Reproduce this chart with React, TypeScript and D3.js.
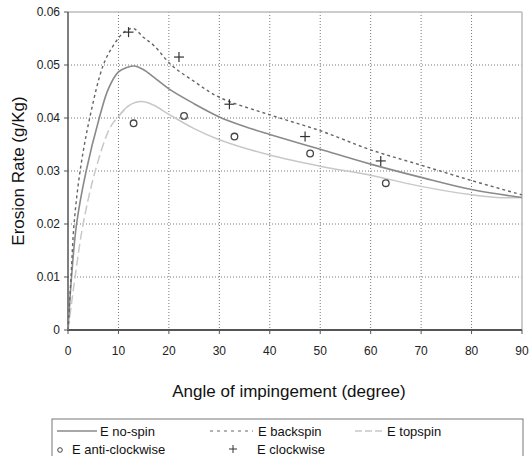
import React from "react";
import * as d3 from "d3";

const noSpinX = [0, 0.7, 1.7, 3.6, 6.2, 8, 10, 11.5, 13.1, 15, 17, 20, 25, 30, 35, 40, 50, 60, 70, 80, 90];
const noSpinY = [0, 0.01, 0.02, 0.03, 0.04, 0.0455, 0.0487, 0.0495, 0.0498, 0.0491, 0.0477, 0.0455, 0.0427, 0.0402, 0.0384, 0.0369, 0.0341, 0.0313, 0.0288, 0.0265, 0.025];

const backX = [0, 0.6, 1.2, 2.4, 4.3, 7, 9, 11, 12.9, 15, 17, 20.5, 25, 30, 40, 50, 60, 70, 80, 90];
const backY = [0, 0.01, 0.02, 0.03, 0.04, 0.05, 0.0537, 0.0561, 0.0569, 0.0552, 0.0537, 0.05, 0.0469, 0.0439, 0.0406, 0.0376, 0.034, 0.0311, 0.0282, 0.0255];

const topX = [0, 0.7, 1.4, 3.0, 5.4, 8.3, 10, 12, 14.6, 17, 20, 25, 30, 40, 50, 60, 70, 80, 85, 90];
const topY = [0, 0.005, 0.01, 0.02, 0.03, 0.0381, 0.0403, 0.0423, 0.0431, 0.0424, 0.0407, 0.038, 0.0359, 0.033, 0.0309, 0.0292, 0.0271, 0.0255, 0.025, 0.025];

const antiX = [13, 23, 33, 48, 63];
const antiY = [0.039, 0.0404, 0.0365, 0.0333, 0.0277];

const clockX = [12, 22, 32, 47, 62];
const clockY = [0.0562, 0.0515, 0.0426, 0.0365, 0.0319];

const xTicks = [0, 10, 20, 30, 40, 50, 60, 70, 80, 90];
const yTicks = [0, 0.01, 0.02, 0.03, 0.04, 0.05, 0.06];
const yTickLabels = ["0", "0.01", "0.02", "0.03", "0.04", "0.05", "0.06"];

const FONT = "'Liberation Sans', Arial, sans-serif";

export default function App() {
  const x = d3.scaleLinear().domain([0, 90]).range([68, 522]);
  const y = d3.scaleLinear().domain([0, 0.06]).range([330, 12]);
  const mk = (xs: number[], ys: number[]) =>
    d3
      .line<number>()
      .x((_, i) => x(xs[i]))
      .y((d) => y(d))
      .curve(d3.curveCatmullRom.alpha(0.5))(ys) || "";

  // topspin: dashed on the rising part, continuous afterwards
  const split = 7;
  const topRise = mk(topX.slice(0, split + 1), topY.slice(0, split + 1));
  const topFall = mk(topX.slice(split - 1), topY.slice(split - 1));

  return (
    <svg
      width={529}
      height={456}
      style={{ position: "absolute", left: 0, top: 0, background: "#fff" }}
      fontFamily={FONT}
    >
      <rect x={0} y={0} width={529} height={456} fill="#fff" />
      {/* grid */}
      {xTicks.slice(1, -1).map((t) => (
        <line key={"gx" + t} x1={x(t)} x2={x(t)} y1={y(0.06)} y2={y(0)} stroke="#777" strokeWidth={1} strokeDasharray="1,2" />
      ))}
      {yTicks.slice(1, -1).map((t) => (
        <line key={"gy" + t} x1={x(0)} x2={x(90)} y1={y(t)} y2={y(t)} stroke="#777" strokeWidth={1} strokeDasharray="1,2" />
      ))}
      {/* frame */}
      <line x1={x(0)} x2={x(90)} y1={y(0.06)} y2={y(0.06)} stroke="#bbb" strokeWidth={1.5} />
      <line x1={x(90)} x2={x(90)} y1={y(0.06)} y2={y(0)} stroke="#bbb" strokeWidth={1.5} />
      <line x1={x(0)} x2={x(0)} y1={y(0.06)} y2={y(0)} stroke="#555" strokeWidth={1.5} />
      <line x1={x(0) - 1} x2={x(90)} y1={y(0)} y2={y(0)} stroke="#555" strokeWidth={2} />
      {yTicks.map((t, i) => (
        <g key={"yt" + t}>
          <line x1={x(0) - 4} x2={x(0)} y1={y(t)} y2={y(t)} stroke="#555" strokeWidth={1} />
          <text x={60} y={y(t) + 4} fontSize={12} textAnchor="end" fill="#222">
            {yTickLabels[i]}
          </text>
        </g>
      ))}
      {xTicks.map((t) => (
        <g key={"xt" + t}>
          <line x1={x(t)} x2={x(t)} y1={y(0)} y2={y(0) + 4} stroke="#555" strokeWidth={1} />
          <text x={x(t)} y={355} fontSize={12} textAnchor="middle" fill="#222">
            {t}
          </text>
        </g>
      ))}
      {/* curves */}
      <path d={topRise} fill="none" stroke="#c8c8c8" strokeWidth={1.5} strokeDasharray="9,4" />
      <path d={topFall} fill="none" stroke="#c8c8c8" strokeWidth={1.5} />
      <path d={mk(noSpinX, noSpinY)} fill="none" stroke="#8a8a8a" strokeWidth={1.6} />
      <path d={mk(backX, backY)} fill="none" stroke="#666" strokeWidth={1.4} strokeDasharray="3,3" />
      {/* markers */}
      {antiX.map((v, i) => (
        <circle key={"a" + i} cx={x(v)} cy={y(antiY[i])} r={3.3} fill="none" stroke="#444" strokeWidth={1.3} />
      ))}
      {clockX.map((v, i) => (
        <g key={"c" + i} stroke="#333" strokeWidth={1.2}>
          <line x1={x(v) - 5} x2={x(v) + 5} y1={y(clockY[i])} y2={y(clockY[i])} />
          <line x1={x(v)} x2={x(v)} y1={y(clockY[i]) - 5} y2={y(clockY[i]) + 5} />
        </g>
      ))}
      {/* axis titles */}
      <text x={289} y={397} fontSize={17} textAnchor="middle" fill="#111">
        Angle of impingement (degree)
      </text>
      <text transform={`translate(24,171) rotate(-90)`} fontSize={17} textAnchor="middle" fill="#111">
        Erosion Rate (g/Kg)
      </text>
      {/* legend */}
      <rect x={52} y={419} width={471} height={40} fill="#fff" stroke="#777" strokeWidth={1} />
      <line x1={57} x2={97} y1={431} y2={431} stroke="#8a8a8a" strokeWidth={1.5} />
      <text x={100} y={436} fontSize={13} fill="#111">E no-spin</text>
      <line x1={210} x2={253} y1={431} y2={431} stroke="#666" strokeWidth={1.2} strokeDasharray="3,4" />
      <text x={258} y={436} fontSize={13} fill="#111">E backspin</text>
      <line x1={355} x2={383} y1={431} y2={431} stroke="#c8c8c8" strokeWidth={1.5} strokeDasharray="7,3" />
      <text x={387} y={436} fontSize={13} fill="#111">E topspin</text>
      <circle cx={60} cy={450} r={2.3} fill="none" stroke="#444" strokeWidth={1} />
      <text x={72} y={454} fontSize={13} fill="#111">E anti-clockwise</text>
      <g stroke="#333" strokeWidth={1}>
        <line x1={229} x2={237} y1={449} y2={449} />
        <line x1={233} x2={233} y1={445} y2={453} />
      </g>
      <text x={257} y={454} fontSize={13} fill="#111">E clockwise</text>
    </svg>
  );
}
